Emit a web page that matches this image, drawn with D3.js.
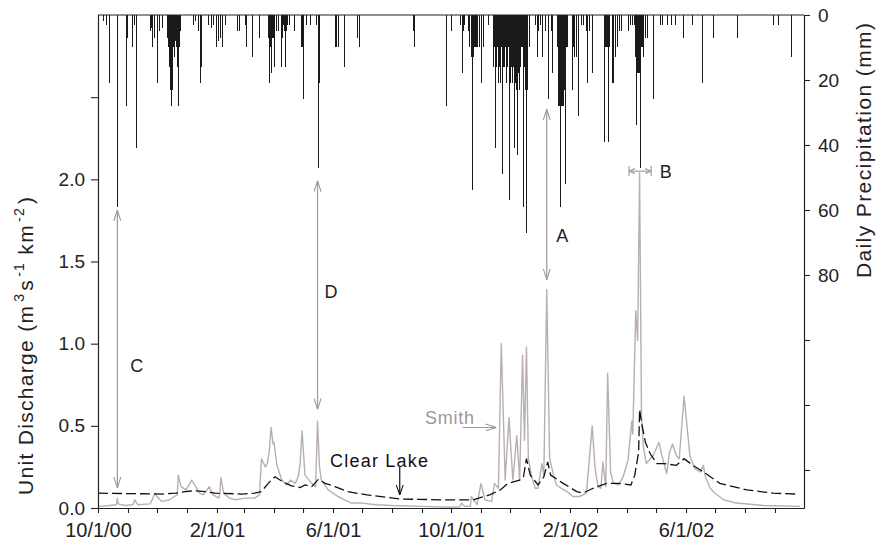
<!DOCTYPE html>
<html>
<head>
<meta charset="utf-8">
<script src="https://cdn.jsdelivr.net/npm/d3@7/dist/d3.min.js"></script>
<style>
  body { margin: 0; background: #fff; }
  text { font-family: "Liberation Sans", Arial, Helvetica, sans-serif; }
</style>
</head>
<body>
<svg id="chart" width="878" height="542"></svg>
<script>
// daily precipitation (mm), only rainy days listed
const precip = [
  ["2000-10-01",25],["2000-10-06",2],["2000-10-09",3],["2000-10-12",21],["2000-10-21",59],
  ["2000-10-30",28],["2000-10-31",7],["2000-11-05",10],["2000-11-07",3],["2000-11-09",41],
  ["2000-11-24",5],["2000-11-25",4],["2000-11-26",10],["2000-11-28",7],["2000-12-01",21],
  ["2000-12-03",5],["2000-12-06",4],["2000-12-11",7],["2000-12-12",10],["2000-12-13",16],
  ["2000-12-14",23],["2000-12-15",28],["2000-12-16",23],["2000-12-17",13],["2000-12-18",10],
  ["2000-12-19",13],["2000-12-20",8],["2000-12-21",10],["2000-12-22",16],["2000-12-23",28],
  ["2000-12-24",10],["2000-12-25",5],["2001-01-07",3],["2001-01-09",2],["2001-01-12",5],
  ["2001-01-14",21],["2001-01-15",16],["2001-01-23",3],["2001-01-26",4],["2001-01-28",3],
  ["2001-01-31",10],["2001-02-02",8],["2001-02-04",7],["2001-02-06",10],["2001-02-09",3],
  ["2001-02-22",5],["2001-02-24",5],["2001-03-02",3],["2001-03-03",10],["2001-03-09",13],
  ["2001-03-16",7],["2001-03-26",7],["2001-03-27",21],["2001-03-28",10],["2001-03-29",18],
  ["2001-03-30",7],["2001-03-31",7],["2001-04-01",16],["2001-04-03",5],["2001-04-05",5],
  ["2001-04-08",16],["2001-04-09",7],["2001-04-10",3],["2001-04-11",5],["2001-04-12",16],
  ["2001-04-13",5],["2001-04-14",3],["2001-04-16",3],["2001-04-22",5],["2001-04-29",10],
  ["2001-04-30",10],["2001-05-01",26],["2001-05-04",3],["2001-05-08",3],["2001-05-14",3],
  ["2001-05-16",47],["2001-05-17",21],["2001-06-03",10],["2001-06-04",10],["2001-06-06",10],
  ["2001-06-12",16],["2001-06-26",7],["2001-06-28",10],["2001-08-23",5],["2001-08-24",10],
  ["2001-09-26",28],
  ["2001-10-01",5],["2001-10-10",3],["2001-10-12",18],["2001-10-13",5],["2001-10-14",3],
  ["2001-10-19",5],["2001-10-20",10],["2001-10-22",13],["2001-10-23",54],["2001-10-24",13],
  ["2001-10-25",10],["2001-10-26",10],["2001-10-27",10],["2001-10-28",10],["2001-10-30",10],
  ["2001-11-01",21],["2001-11-03",10],["2001-11-08",3],["2001-11-13",16],["2001-11-14",10],
  ["2001-11-15",41],["2001-11-16",16],["2001-11-17",16],["2001-11-18",10],["2001-11-19",21],
  ["2001-11-20",16],["2001-11-21",21],["2001-11-22",10],["2001-11-23",49],["2001-11-24",16],
  ["2001-11-25",16],["2001-11-26",10],["2001-11-27",21],["2001-11-28",16],["2001-11-29",10],
  ["2001-11-30",57],["2001-12-01",21],["2001-12-02",16],["2001-12-03",21],["2001-12-04",16],
  ["2001-12-05",41],["2001-12-06",21],["2001-12-07",23],["2001-12-08",43],["2001-12-09",18],
  ["2001-12-10",23],["2001-12-11",16],["2001-12-12",10],["2001-12-13",10],["2001-12-14",59],
  ["2001-12-15",16],["2001-12-16",23],["2001-12-17",16],["2001-12-18",67],["2001-12-19",23],
  ["2001-12-21",10],["2001-12-27",3],["2001-12-29",13],["2001-12-30",5],["2002-01-01",3],
  ["2002-01-03",13],["2002-01-06",5],["2002-01-09",26],["2002-01-12",5],["2002-01-13",18],
  ["2002-01-19",10],["2002-01-20",28],["2002-01-21",28],["2002-01-22",59],["2002-01-23",28],
  ["2002-01-24",28],["2002-01-25",28],["2002-01-26",23],["2002-01-27",52],["2002-01-28",10],
  ["2002-01-29",10],["2002-02-03",23],["2002-02-04",10],["2002-02-05",13],["2002-02-07",13],
  ["2002-02-09",31],["2002-02-12",3],["2002-02-15",3],["2002-02-18",5],["2002-02-19",21],
  ["2002-02-21",5],["2002-02-24",18],["2002-03-08",39],["2002-03-09",10],["2002-03-10",10],
  ["2002-03-11",10],["2002-03-12",39],["2002-03-13",10],["2002-03-16",21],["2002-03-17",21],
  ["2002-03-18",10],["2002-03-20",13],["2002-03-22",10],["2002-03-24",5],["2002-03-26",5],
  ["2002-04-02",5],["2002-04-04",3],["2002-04-06",3],["2002-04-08",3],["2002-04-09",13],
  ["2002-04-10",34],["2002-04-11",18],["2002-04-12",18],["2002-04-13",18],["2002-04-14",47],
  ["2002-04-15",10],["2002-04-16",10],["2002-04-17",7],["2002-04-18",13],["2002-04-20",7],
  ["2002-04-22",7],["2002-04-28",26],["2002-05-05",3],["2002-05-07",3],["2002-05-12",3],
  ["2002-05-16",3],["2002-05-21",3],["2002-05-29",7],["2002-06-07",3],["2002-06-18",21],
  ["2002-06-29",7],["2002-07-24",7],["2002-08-30",3],["2002-09-04",3],["2002-09-18",13]
];

// unit discharge (m3 s-1 km-2)
const smith = [
  ["2000-10-01",0.01],["2000-10-13",0.015],["2000-10-20",0.02],["2000-10-21",0.06],["2000-10-22",0.025],
  ["2000-10-29",0.015],["2000-11-06",0.02],["2000-11-08",0.05],["2000-11-11",0.02],["2000-11-24",0.025],
  ["2000-11-29",0.09],["2000-12-01",0.07],["2000-12-06",0.04],["2000-12-14",0.05],["2000-12-19",0.07],
  ["2000-12-22",0.08],["2000-12-23",0.20],["2000-12-26",0.13],["2000-12-31",0.11],["2001-01-06",0.17],
  ["2001-01-10",0.13],["2001-01-14",0.09],["2001-01-18",0.08],["2001-01-24",0.13],["2001-01-28",0.08],
  ["2001-02-03",0.06],["2001-02-04",0.09],["2001-02-05",0.185],["2001-02-08",0.09],["2001-02-14",0.06],
  ["2001-02-20",0.05],["2001-03-02",0.06],["2001-03-12",0.06],["2001-03-17",0.08],["2001-03-19",0.30],
  ["2001-03-23",0.25],["2001-03-25",0.27],["2001-03-27",0.34],["2001-03-29",0.49],["2001-03-31",0.39],
  ["2001-04-01",0.40],["2001-04-04",0.26],["2001-04-09",0.17],["2001-04-14",0.14],["2001-04-18",0.17],
  ["2001-04-23",0.15],["2001-04-26",0.19],["2001-04-28",0.27],["2001-04-30",0.47],["2001-05-03",0.20],
  ["2001-05-10",0.15],["2001-05-14",0.13],["2001-05-16",0.53],["2001-05-18",0.25],["2001-05-20",0.17],
  ["2001-05-27",0.11],["2001-06-06",0.07],["2001-06-13",0.05],["2001-06-20",0.03],["2001-07-01",0.03],
  ["2001-07-15",0.02],["2001-08-01",0.015],["2001-09-01",0.01],["2001-10-01",0.005],["2001-10-10",0.008],
  ["2001-10-12",0.03],["2001-10-15",0.01],["2001-10-21",0.01],["2001-10-22",0.07],["2001-10-28",0.02],
  ["2001-11-01",0.15],["2001-11-05",0.05],["2001-11-12",0.04],["2001-11-15",0.15],["2001-11-19",0.12],
  ["2001-11-22",1.0],["2001-11-26",0.17],["2001-11-30",0.55],["2001-12-02",0.35],["2001-12-04",0.17],
  ["2001-12-08",0.44],["2001-12-11",0.17],["2001-12-14",0.93],["2001-12-16",0.41],["2001-12-18",0.98],
  ["2001-12-20",0.30],["2001-12-23",0.20],["2001-12-27",0.12],["2001-12-30",0.12],["2002-01-03",0.27],
  ["2002-01-05",0.20],["2002-01-08",1.33],["2002-01-11",0.30],["2002-01-15",0.20],["2002-01-18",0.14],
  ["2002-01-23",0.12],["2002-01-29",0.10],["2002-02-04",0.07],["2002-02-11",0.07],["2002-02-18",0.09],
  ["2002-02-24",0.50],["2002-02-27",0.24],["2002-03-02",0.13],["2002-03-05",0.12],["2002-03-07",0.28],
  ["2002-03-10",0.13],["2002-03-12",0.82],["2002-03-15",0.22],["2002-03-18",0.15],["2002-03-23",0.14],
  ["2002-03-28",0.19],["2002-04-02",0.29],["2002-04-06",0.53],["2002-04-07",0.45],["2002-04-10",1.20],
  ["2002-04-12",1.02],["2002-04-14",2.04],["2002-04-16",0.55],["2002-04-18",0.37],["2002-04-21",0.27],
  ["2002-04-25",0.30],["2002-04-28",0.32],["2002-05-04",0.40],["2002-05-07",0.32],["2002-05-12",0.21],
  ["2002-05-15",0.34],["2002-05-18",0.39],["2002-05-22",0.32],["2002-05-25",0.30],["2002-05-30",0.68],
  ["2002-06-02",0.50],["2002-06-05",0.32],["2002-06-10",0.24],["2002-06-16",0.22],["2002-06-19",0.26],
  ["2002-06-21",0.19],["2002-06-26",0.12],["2002-07-01",0.09],["2002-07-10",0.05],["2002-07-23",0.03],
  ["2002-08-20",0.015],["2002-09-27",0.01]
];

const clearLake = [
  ["2000-10-01",0.09],["2000-12-06",0.085],["2000-12-20",0.09],["2000-12-30",0.10],["2001-01-09",0.105],
  ["2001-01-20",0.10],["2001-01-30",0.09],["2001-02-27",0.085],["2001-03-12",0.09],["2001-03-19",0.10],
  ["2001-03-26",0.15],["2001-04-02",0.19],["2001-04-10",0.16],["2001-04-19",0.135],["2001-04-28",0.125],
  ["2001-05-03",0.14],["2001-05-10",0.13],["2001-05-17",0.175],["2001-05-24",0.15],["2001-06-03",0.13],
  ["2001-06-16",0.10],["2001-07-06",0.08],["2001-08-09",0.055],["2001-09-20",0.05],["2001-10-24",0.05],
  ["2001-11-10",0.08],["2001-11-21",0.11],["2001-11-29",0.15],["2001-12-11",0.17],["2001-12-15",0.19],
  ["2001-12-18",0.30],["2001-12-22",0.20],["2001-12-30",0.14],["2002-01-05",0.19],["2002-01-09",0.28],
  ["2002-01-12",0.20],["2002-01-25",0.15],["2002-02-08",0.10],["2002-02-14",0.09],["2002-02-25",0.12],
  ["2002-03-11",0.15],["2002-03-23",0.15],["2002-04-05",0.14],["2002-04-09",0.20],["2002-04-13",0.34],
  ["2002-04-14",0.60],["2002-04-16",0.52],["2002-04-20",0.40],["2002-04-25",0.33],["2002-05-02",0.27],
  ["2002-05-09",0.27],["2002-05-22",0.26],["2002-05-30",0.30],["2002-06-08",0.26],["2002-06-19",0.22],
  ["2002-07-06",0.15],["2002-08-03",0.11],["2002-08-30",0.09],["2002-09-23",0.085]
];

const dischargeTicks = [0, 0.5, 1.0, 1.5, 2.0, 2.5];
const precipTicks = [0, 20, 40, 60, 80, 100, 120, 140];
const labelledMonths = [10, 2, 6];

// lettered arrows: date, discharge end, precipitation end
const vArrows = [
  { name: "C", date: "2000-10-21", q: 0.122, p: 60 },
  { name: "D", date: "2001-05-16", q: 0.60, p: 51 },
  { name: "A", date: "2002-01-08", q: 1.39, p: 29 }
];
const letterLabels = [
  { name: "C", date: "2000-11-10", q: 0.87 },
  { name: "D", date: "2001-05-30", q: 1.32 },
  { name: "A", date: "2002-01-24", q: 1.66 },
  { name: "B", date: "2002-05-11", q: 2.05 }
];
const lagB = { from: "2002-04-03", to: "2002-04-26", q: 2.05 };

const parse = d3.timeParse("%Y-%m-%d");
const width = 878, height = 542;
const margin = { top: 15, right: 74, bottom: 34, left: 98 };

const svg = d3.select("#chart");

const x = d3.scaleTime()
  .domain([parse("2000-10-01"), parse("2002-10-01")])
  .range([margin.left, width - margin.right]);
const yQ = d3.scaleLinear().domain([0, 3]).range([height - margin.bottom, margin.top]);
const yP = d3.scaleLinear().domain([0, 151.7]).range([margin.top, height - margin.bottom]);

svg.append("clipPath").attr("id", "plot")
  .append("rect")
  .attr("x", margin.left).attr("y", margin.top)
  .attr("width", width - margin.left - margin.right)
  .attr("height", height - margin.top - margin.bottom);

const arrowCol = "#a39796";
const defs = svg.append("defs");
function marker(id, col, len, half) {
  defs.append("marker")
    .attr("id", id)
    .attr("viewBox", `0 0 ${len} ${half * 2}`)
    .attr("refX", len).attr("refY", half)
    .attr("markerWidth", len).attr("markerHeight", half * 2)
    .attr("markerUnits", "userSpaceOnUse")
    .attr("orient", "auto-start-reverse")
    .append("path")
    .attr("d", `M0,0.5 L${len},${half} L0,${half * 2 - 0.5}`)
    .attr("fill", "none")
    .attr("stroke", col)
    .attr("stroke-width", 1.1);
}
marker("ag", arrowCol, 11, 4);
marker("as", arrowCol, 6, 3);
marker("ak", "#111", 10, 4);

// precipitation bars hanging from the top
svg.append("g")
  .attr("clip-path", "url(#plot)")
  .attr("shape-rendering", "crispEdges")
  .selectAll("rect")
  .data(precip)
  .join("rect")
  .attr("x", d => Math.round(x(parse(d[0]))))
  .attr("y", yP(0))
  .attr("width", 1)
  .attr("height", d => yP(d[1]) - yP(0))
  .attr("fill", "#1a1a1a");

const line = d3.line()
  .x(d => x(parse(d[0])))
  .y(d => yQ(d[1]));

svg.append("path")
  .datum(smith)
  .attr("clip-path", "url(#plot)")
  .attr("d", line)
  .attr("fill", "none")
  .attr("stroke", "#b9b0ad")
  .attr("stroke-width", 1.4)
  .attr("stroke-linejoin", "round");

svg.append("path")
  .datum(clearLake)
  .attr("clip-path", "url(#plot)")
  .attr("d", line)
  .attr("fill", "none")
  .attr("stroke", "#111")
  .attr("stroke-width", 1.3)
  .attr("stroke-dasharray", "10,4");

// axes
const fmt = d3.timeFormat("%-m/%-d/%y");
svg.append("g")
  .attr("transform", `translate(0,${yQ(0)})`)
  .call(d3.axisBottom(x)
    .tickValues(d3.timeMonth.range(parse("2000-10-01"), parse("2002-10-01")))
    .tickSize(5).tickSizeOuter(0)
    .tickFormat(d => labelledMonths.includes(d.getMonth() + 1) ? fmt(d) : ""))
  .call(g => g.selectAll("text").attr("font-size", 20).attr("dy", "1.05em").attr("fill", "#222"));

svg.append("g")
  .attr("transform", `translate(${margin.left},0)`)
  .call(d3.axisLeft(yQ).tickValues(dischargeTicks)
    .tickSize(7).tickSizeOuter(0).tickPadding(6)
    .tickFormat(d => d <= 2 ? d3.format(".1f")(d) : ""))
  .call(g => g.selectAll("text").attr("font-size", 19).attr("fill", "#222"));

svg.append("g")
  .attr("transform", `translate(${width - margin.right},0)`)
  .call(d3.axisRight(yP).tickValues(precipTicks)
    .tickSize(6).tickSizeOuter(0).tickPadding(8)
    .tickFormat(d => d <= 80 ? d : ""))
  .call(g => g.selectAll("text").attr("font-size", 19).attr("fill", "#222"));

svg.selectAll(".domain").attr("stroke", "#222").attr("stroke-width", 1.2);
svg.selectAll(".tick line").attr("stroke", "#222").attr("stroke-width", 1.1);

svg.append("line")
  .attr("x1", margin.left).attr("x2", width - margin.right)
  .attr("y1", margin.top).attr("y2", margin.top)
  .attr("stroke", "#222").attr("stroke-width", 1.2);

// axis titles
const leftTitle = svg.append("text")
  .attr("transform", `translate(33,${yQ(0.99)}) rotate(-90)`)
  .attr("text-anchor", "middle")
  .attr("font-size", 21)
  .attr("letter-spacing", 1.3)
  .attr("fill", "#222");
leftTitle.append("tspan").text("Unit Discharge (m");
leftTitle.append("tspan").attr("font-size", 14).attr("dx", 3).attr("dy", -9).text("3");
leftTitle.append("tspan").attr("dx", 2).attr("dy", 9).text("s");
leftTitle.append("tspan").attr("font-size", 14).attr("dx", 2).attr("dy", -9).text("-1");
leftTitle.append("tspan").attr("dy", 9).text(" km");
leftTitle.append("tspan").attr("font-size", 14).attr("dx", 2).attr("dy", -9).text("-2");
leftTitle.append("tspan").attr("dx", 3).attr("dy", 9).text(")");

svg.append("text")
  .attr("transform", `translate(871,${yP(41.5)}) rotate(-90)`)
  .attr("text-anchor", "middle")
  .attr("font-size", 21)
  .attr("letter-spacing", 1.4)
  .attr("fill", "#222")
  .text("Daily Precipitation (mm)");

// annotations
svg.append("g").selectAll("line")
  .data(vArrows)
  .join("line")
  .attr("x1", d => x(parse(d.date))).attr("x2", d => x(parse(d.date)))
  .attr("y1", d => yQ(d.q)).attr("y2", d => yP(d.p))
  .attr("stroke", arrowCol).attr("stroke-width", 1.2)
  .attr("marker-start", "url(#ag)").attr("marker-end", "url(#ag)");

svg.append("line")
  .attr("x1", x(parse(lagB.from))).attr("x2", x(parse(lagB.to)))
  .attr("y1", yQ(lagB.q)).attr("y2", yQ(lagB.q))
  .attr("stroke", arrowCol).attr("stroke-width", 1.1)
  .attr("marker-start", "url(#as)").attr("marker-end", "url(#as)");
svg.append("g").selectAll("line")
  .data([lagB.from, lagB.to])
  .join("line")
  .attr("x1", d => x(parse(d))).attr("x2", d => x(parse(d)))
  .attr("y1", yQ(lagB.q) - 5).attr("y2", yQ(lagB.q) + 5)
  .attr("stroke", arrowCol).attr("stroke-width", 1.1);

svg.append("g").selectAll("text")
  .data(letterLabels)
  .join("text")
  .attr("x", d => x(parse(d.date)))
  .attr("y", d => yQ(d.q))
  .attr("dy", "0.36em")
  .attr("text-anchor", "middle")
  .attr("font-size", 18)
  .attr("fill", "#222")
  .text(d => d.name);

svg.append("text")
  .attr("x", x(parse("2001-09-04")))
  .attr("y", yQ(0.55))
  .attr("dy", "0.36em")
  .attr("font-size", 18)
  .attr("letter-spacing", 0.8)
  .attr("fill", "#a39796")
  .text("Smith");
svg.append("line")
  .attr("x1", x(parse("2001-10-13"))).attr("x2", x(parse("2001-11-17")))
  .attr("y1", yQ(0.49)).attr("y2", yQ(0.49))
  .attr("stroke", arrowCol).attr("stroke-width", 1.1)
  .attr("marker-end", "url(#ag)");

svg.append("text")
  .attr("x", x(parse("2001-05-29")))
  .attr("y", yQ(0.29))
  .attr("dy", "0.36em")
  .attr("font-size", 18)
  .attr("letter-spacing", 1.2)
  .attr("fill", "#111")
  .text("Clear Lake");
svg.append("line")
  .attr("x1", x(parse("2001-08-09"))).attr("x2", x(parse("2001-08-09")))
  .attr("y1", yQ(0.25)).attr("y2", yQ(0.08))
  .attr("stroke", "#111").attr("stroke-width", 1.2)
  .attr("marker-end", "url(#ak)");
</script>
</body>
</html>
